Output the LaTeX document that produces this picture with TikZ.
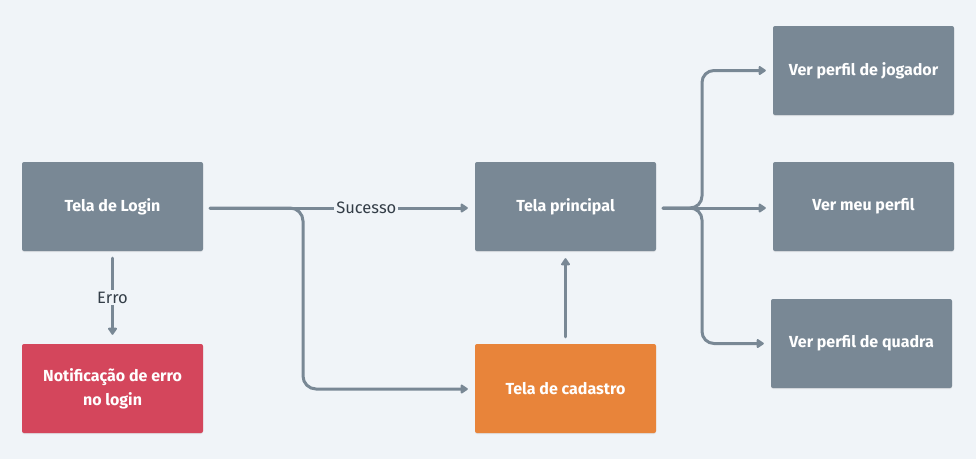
\documentclass[tikz,border=0pt]{standalone}
\usepackage{fontspec}
\setmainfont{Fira Sans}
\usetikzlibrary{arrows.meta,shadows}
\definecolor{bg}{HTML}{F0F4F8}
\definecolor{boxgray}{HTML}{798895}
\definecolor{boxred}{HTML}{D4465C}
\definecolor{boxorange}{HTML}{E8843A}
\definecolor{linec}{HTML}{798895}
\definecolor{labelc}{HTML}{333D47}
\tikzset{
  box/.style={rectangle, rounded corners=2pt, minimum width=181pt, minimum height=89pt,
    text=white, font=\fontsize{16}{24}\selectfont\bfseries, align=center, inner sep=0pt,
    drop shadow={shadow xshift=0pt, shadow yshift=-1pt, opacity=0.15}},
  graybox/.style={box, fill=boxgray},
  redbox/.style={box, fill=boxred},
  orangebox/.style={box, fill=boxorange},
  conn/.style={draw=linec, line width=3pt, line cap=round, -{Triangle[length=8pt,width=10pt,round]}},
  plain/.style={draw=linec, line width=3pt, line cap=round},
  lbl/.style={fill=bg, text=labelc, font=\fontsize{16.5}{20}\selectfont, inner sep=2pt},
}
\begin{document}
\begin{tikzpicture}[x=1pt,y=-1pt]
\useasboundingbox[fill=bg] (0,0) rectangle (976,459);
\node[graybox] (login) at (112.5,206.5) {Tela de Login};
\node[redbox] (notif) at (112.5,388.5) {Notificação de erro\\no login};
\node[graybox] (princ) at (565.5,206.5) {Tela principal};
\node[orangebox] (cad) at (565.5,388.5) {Tela de cadastro};
\node[graybox] (jog) at (863.5,70.5) {Ver perfil de jogador};
\node[graybox] (meu) at (863.5,206.5) {Ver meu perfil};
\node[graybox] (quad) at (861.5,343.5) {Ver perfil de quadra};

\coordinate (ls) at ([xshift=7pt,yshift=-1.5pt]login.east);
\coordinate (ps) at ([xshift=7pt,yshift=-1.5pt]princ.east);
\coordinate (jx) at (303,208);
\coordinate (bx) at (702,208);

% login -> principal (Sucesso)
\draw[conn, shorten >=7pt] (ls) -- node[lbl, pos=0.59] {Sucesso} ([yshift=-1.5pt]princ.west);
% login -> cadastro
\draw[plain, rounded corners=13pt, shorten >=7pt, -{Triangle[length=8pt,width=10pt,round]}]
  (ls) -- (jx) |- ([yshift=-0.5pt]cad.west);
% login -> notif (Erro)
\draw[conn, shorten <=7pt, shorten >=9pt] (login.south) -- node[lbl, pos=0.5] {Erro} (notif.north);
% cadastro -> principal
\draw[conn, shorten <=7pt, shorten >=7pt] (cad.north) -- (princ.south);
% principal -> branches
\draw[plain, rounded corners=12pt, shorten >=7pt, -{Triangle[length=8pt,width=10pt,round]}]
  (ps) -- (bx) |- (jog.west);
\draw[conn, shorten >=7pt] (ps) -- ([yshift=-1.5pt]meu.west);
\draw[plain, rounded corners=12pt, shorten >=7pt, -{Triangle[length=8pt,width=10pt,round]}]
  (ps) -- (bx) |- (quad.west);
\end{tikzpicture}
\end{document}
